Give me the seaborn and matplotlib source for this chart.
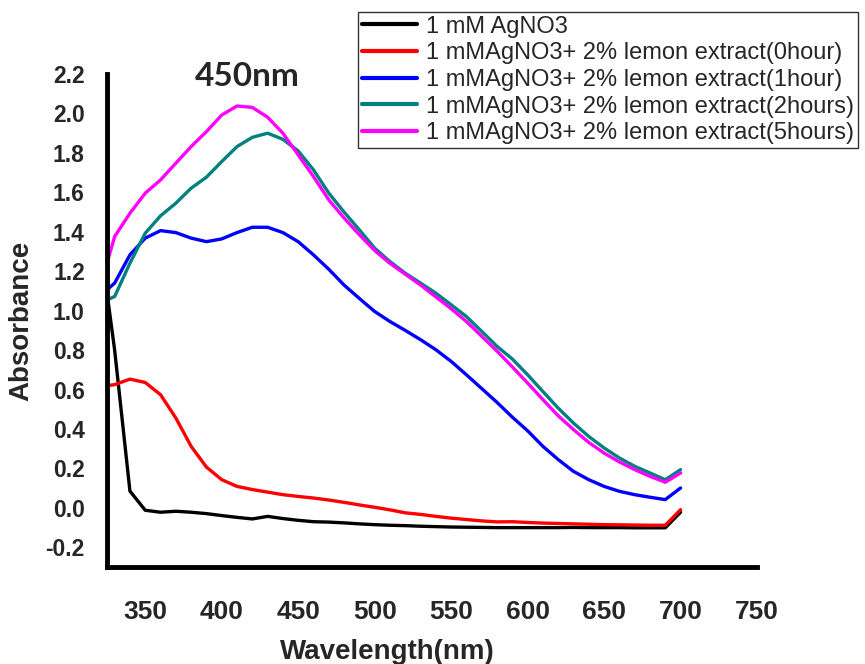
import matplotlib
matplotlib.use("Agg")
import matplotlib.pyplot as plt
import numpy as np
import pandas as pd
import seaborn as sns

# wavelengths (nm) and absorbance
wavelength = [325, 330, 340, 350, 360, 370, 380, 390, 400, 410, 420, 430, 440,
              450, 460, 470, 480, 490, 500, 510, 520, 530, 540, 550, 560, 570,
              580, 590, 600, 610, 620, 630, 640, 650, 660, 670, 680, 690, 700]

agno3 = [1.09, 0.8, 0.085, -0.012, -0.022, -0.017, -0.022, -0.029, -0.039, -0.048,
         -0.056, -0.043, -0.054, -0.063, -0.07, -0.072, -0.076, -0.081, -0.085, -0.088,
         -0.09, -0.093, -0.095, -0.097, -0.098, -0.099, -0.1, -0.1, -0.1, -0.1,
         -0.1, -0.099, -0.1, -0.1, -0.1, -0.101, -0.101, -0.101, -0.022]

lemon_0h = [0.62, 0.625, 0.653, 0.636, 0.574, 0.456, 0.312, 0.207, 0.143, 0.109,
            0.093, 0.08, 0.067, 0.058, 0.05, 0.04, 0.028, 0.015, 0.003, -0.01,
            -0.025, -0.033, -0.043, -0.052, -0.059, -0.066, -0.071, -0.07, -0.074, -0.077,
            -0.079, -0.081, -0.083, -0.085, -0.086, -0.087, -0.088, -0.088, -0.009]

lemon_1h = [1.106, 1.14, 1.283, 1.368, 1.406, 1.396, 1.368, 1.35, 1.364, 1.396,
            1.423, 1.423, 1.396, 1.35, 1.283, 1.21, 1.13, 1.062, 0.996, 0.945,
            0.9, 0.853, 0.802, 0.743, 0.675, 0.605, 0.535, 0.46, 0.391, 0.312,
            0.245, 0.185, 0.143, 0.109, 0.084, 0.067, 0.054, 0.042, 0.101]

lemon_2h = [1.055, 1.072, 1.241, 1.393, 1.481, 1.545, 1.621, 1.677, 1.756, 1.832,
            1.879, 1.9, 1.869, 1.81, 1.714, 1.596, 1.5, 1.41, 1.317, 1.249,
            1.19, 1.14, 1.089, 1.03, 0.97, 0.895, 0.819, 0.755, 0.675, 0.59,
            0.506, 0.43, 0.362, 0.304, 0.253, 0.211, 0.177, 0.143, 0.194]

lemon_5h = [1.241, 1.376, 1.494, 1.596, 1.663, 1.748, 1.832, 1.908, 1.992, 2.038,
            2.031, 1.981, 1.9, 1.79, 1.68, 1.562, 1.47, 1.385, 1.305, 1.24,
            1.185, 1.13, 1.07, 1.01, 0.945, 0.87, 0.795, 0.715, 0.633, 0.549,
            0.467, 0.397, 0.332, 0.278, 0.233, 0.194, 0.16, 0.13, 0.177]

labels = ["1 mM AgNO3",
          "1 mMAgNO3+ 2% lemon extract(0hour)",
          "1 mMAgNO3+ 2% lemon extract(1hour)",
          "1 mMAgNO3+ 2% lemon extract(2hours)",
          "1 mMAgNO3+ 2% lemon extract(5hours)"]
colors = ["#000000", "#ff0000", "#0000ff", "#008080", "#ff00ff"]

x_ticks = [350, 400, 450, 500, 550, 600, 650, 700, 750]
y_ticks = [-0.2, 0.0, 0.2, 0.4, 0.6, 0.8, 1.0, 1.2, 1.4, 1.6, 1.8, 2.0, 2.2]

sns.set_style("white")
plt.rcParams["font.family"] = ["Liberation Sans", "DejaVu Sans"]

series = [agno3, lemon_0h, lemon_1h, lemon_2h, lemon_5h]
df = pd.DataFrame({
    "wavelength": wavelength * len(series),
    "absorbance": np.concatenate(series),
    "sample": np.repeat(labels, len(wavelength)),
})

fig = plt.figure(figsize=(8.65, 6.64), dpi=100)
ax = fig.add_axes([0.1237, 0.146, 0.7515, 0.7425])

sns.lineplot(data=df, x="wavelength", y="absorbance", hue="sample",
             hue_order=labels, palette=colors, linewidth=2.4, sort=False,
             estimator=None, ax=ax, legend=False)

ax.set_xlim(325, 750)
ax.set_ylim(-0.3, 2.2)
ax.set_xticks(x_ticks)
ax.set_yticks(y_ticks)
ax.set_yticklabels([f"{v:.1f}" for v in y_ticks])

for side in ["top", "right"]:
    ax.spines[side].set_visible(False)
for side in ["left", "bottom"]:
    ax.spines[side].set_linewidth(3.5)
    ax.spines[side].set_color("black")

ax.tick_params(axis="x", direction="in", length=4, width=1, pad=24, labelsize=19)
ax.tick_params(axis="y", direction="in", length=0, pad=16, labelsize=16.5)
for t in ax.get_xticklabels() + ax.get_yticklabels():
    t.set_fontweight("bold")

ax.set_xlabel("Wavelength(nm)", fontsize=20, fontweight="bold")
ax.xaxis.set_label_coords(0.432, -0.146)
ax.set_ylabel("Absorbance", fontsize=20, fontweight="bold", labelpad=8)

ax.text(417, 2.19, "450nm", ha="center", va="center", fontsize=24,
        fontweight="bold", family=["Lato", "DejaVu Sans"])

handles = [plt.Line2D([], [], color=c, linewidth=3) for c in colors]
leg = fig.legend(handles, labels, loc="upper left",
                 bbox_to_anchor=(358 / 865, 1 - 12 / 664),
                 bbox_transform=fig.transFigure, fontsize=17, frameon=True,
                 fancybox=False, borderaxespad=0, borderpad=0.15,
                 labelspacing=0.2, handlelength=2.35, handletextpad=0.4)
leg.get_frame().set_edgecolor("black")
leg.get_frame().set_linewidth(1)

fig.savefig("out.png", dpi=100)
